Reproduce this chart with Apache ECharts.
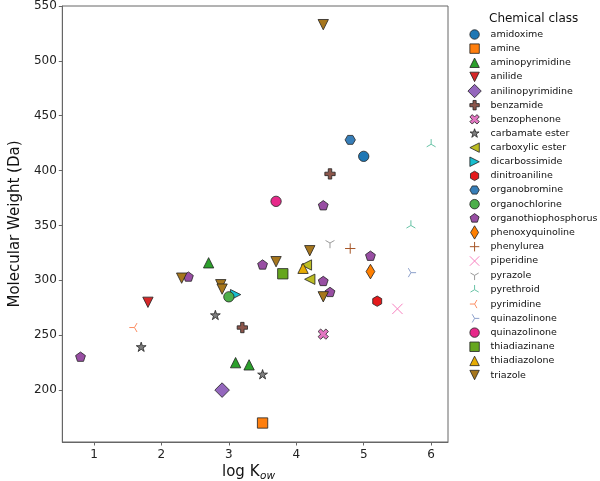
<!DOCTYPE html>
<html>
<head>
<meta charset="utf-8">
<script src="https://cdn.jsdelivr.net/npm/echarts@6/dist/echarts.min.js"></script>
<style>
  html, body { margin: 0; padding: 0; background: #fff; }
  #chart { width: 600px; height: 481px; }
</style>
</head>
<body>
<div id="chart"></div>
<script>
// ---- data ----
const classNames = [
    'amidoxime', 'amine', 'aminopyrimidine', 'anilide', 'anilinopyrimidine',
    'benzamide', 'benzophenone', 'carbamate ester', 'carboxylic ester', 'dicarbossimide',
    'dinitroaniline', 'organobromine', 'organochlorine', 'organothiophosphorus', 'phenoxyquinoline',
    'phenylurea', 'piperidine', 'pyrazole', 'pyrethroid', 'pyrimidine',
    'quinazolinone', 'quinazolinone ', 'thiadiazinane', 'thiadiazolone', 'triazole'
];
// log Kow per class
const kowValues = [
    [5.0], [3.5], [2.7, 3.1, 3.3], [1.8], [2.9],
    [4.5, 3.2], [4.4], [1.7, 2.8, 3.5], [4.15, 4.2], [3.1],
    [5.2], [4.8], [3.0], [0.8, 2.4, 3.5, 4.4, 4.4, 4.5, 5.1], [5.1],
    [4.8], [5.5], [4.5], [6.0, 5.7], [1.6],
    [5.7], [3.7], [3.8], [4.1], [4.4, 4.2, 3.7, 2.3, 2.88, 2.9, 4.4]
];
// molecular weight (Da) per class
const mwValues = [
    [413], [170], [316, 225, 223], [280], [200],
    [397, 257], [251], [239, 268, 214], [314, 301], [287],
    [281], [428], [285], [230, 303, 314, 368, 299, 289, 322], [308],
    [329], [274], [334], [424, 350], [257],
    [307], [372], [306], [311], [533, 327, 317, 302, 296, 292, 285]
];
const xTicks = [1, 2, 3, 4, 5, 6];
const yTicks = [200, 250, 300, 350, 400, 450, 500, 550];

// ---- marker styling ----
const classColors = [
    '#1f77b4', '#ff7f0e', '#2ca02c', '#d62728', '#9467bd',
    '#8c564b', '#e377c2', '#7f7f7f', '#bcbd22', '#17becf',
    '#e41a1c', '#377eb8', '#4daf4a', '#984ea3', '#ff7f00',
    '#a65628', '#f781bf', '#999999', '#66c2a5', '#fc8d62',
    '#8da0cb', '#e7298a', '#66a61e', '#e6ab02', '#a6761d'
];
const classMarkers = [
    'circle', 'square', 'triUp', 'triDown', 'diamond',
    'plusFilled', 'xFilled', 'star', 'triLeft', 'triRight',
    'hexPointy', 'hexFlat', 'circle', 'pentagon', 'thinDiamond',
    'plus', 'cross', 'tri1', 'tri2', 'tri3',
    'tri4', 'circle', 'square', 'triUp', 'triDown'
];
const lineMarkers = ['plus', 'cross', 'tri1', 'tri2', 'tri3', 'tri4'];

// every path shares the same invisible frame so all markers scale alike
const FRAME = 'M-0.75,-0.75M0.75,0.75';
const markerPaths = {
    circle: 'M0.5,0A0.5,0.5,0,1,1,-0.5,0A0.5,0.5,0,1,1,0.5,0Z',
    square: 'M-0.5,-0.5L0.5,-0.5L0.5,0.5L-0.5,0.5Z',
    triUp: 'M0,-0.5L0.5,0.5L-0.5,0.5Z',
    triDown: 'M0,0.5L-0.5,-0.5L0.5,-0.5Z',
    triLeft: 'M-0.5,0L0.5,-0.5L0.5,0.5Z',
    triRight: 'M0.5,0L-0.5,-0.5L-0.5,0.5Z',
    diamond: 'M0,-0.707L0.707,0L0,0.707L-0.707,0Z',
    thinDiamond: 'M0,-0.707L0.424,0L0,0.707L-0.424,0Z',
    pentagon: 'M0,-0.5L0.4755,-0.1545L0.2939,0.4045L-0.2939,0.4045L-0.4755,-0.1545Z',
    star: 'M0,-0.5L0.1123,-0.1545L0.4755,-0.1545L0.1816,0.059L0.2939,0.4045L0,0.191' +
          'L-0.2939,0.4045L-0.1816,0.059L-0.4755,-0.1545L-0.1123,-0.1545Z',
    hexPointy: 'M0,-0.5L0.433,-0.25L0.433,0.25L0,0.5L-0.433,0.25L-0.433,-0.25Z',
    hexFlat: 'M0.5,0L0.25,0.433L-0.25,0.433L-0.5,0L-0.25,-0.433L0.25,-0.433Z',
    plusFilled: 'M-0.1667,-0.5L0.1667,-0.5L0.1667,-0.1667L0.5,-0.1667L0.5,0.1667L0.1667,0.1667' +
                'L0.1667,0.5L-0.1667,0.5L-0.1667,0.1667L-0.5,0.1667L-0.5,-0.1667L-0.1667,-0.1667Z',
    xFilled: 'M-0.25,-0.5L0,-0.25L0.25,-0.5L0.5,-0.25L0.25,0L0.5,0.25L0.25,0.5L0,0.25' +
             'L-0.25,0.5L-0.5,0.25L-0.25,0L-0.5,-0.25Z',
    plus: 'M-0.5,0L0.5,0M0,-0.5L0,0.5',
    cross: 'M-0.5,-0.5L0.5,0.5M-0.5,0.5L0.5,-0.5',
    tri1: 'M0,0L0,0.5M0,0L-0.433,-0.25M0,0L0.433,-0.25',
    tri2: 'M0,0L0,-0.5M0,0L-0.433,0.25M0,0L0.433,0.25',
    tri3: 'M0,0L-0.5,0M0,0L0.25,-0.433M0,0L0.25,0.433',
    tri4: 'M0,0L0.5,0M0,0L-0.25,-0.433M0,0L-0.25,0.433'
};

const FONT = 'DejaVu Sans';
const axisGray = '#666';

const series = classNames.map((name, i) => {
    const isLine = lineMarkers.includes(classMarkers[i]);
    return {
        name: name,
        type: 'scatter',
        symbol: 'path://' + FRAME + markerPaths[classMarkers[i]],
        symbolSize: 15.5,
        symbolKeepAspect: true,
        data: kowValues[i].map((x, j) => [x, mwValues[i][j]]),
        itemStyle: isLine
            ? { color: 'rgba(0,0,0,0)', borderColor: classColors[i], borderWidth: 1, opacity: 1 }
            : { color: classColors[i], borderColor: '#222', borderWidth: 0.8, opacity: 1 },
        emphasis: { disabled: true }
    };
});

const chart = echarts.init(document.getElementById('chart'));
chart.setOption({
    animation: false,
    title: {
        text: 'Chemical class',
        left: 489,
        top: 13,
        padding: 0,
        textStyle: { fontFamily: FONT, fontSize: 12, fontWeight: 'normal', color: '#111' }
    },
    legend: {
        orient: 'vertical',
        left: 467,
        top: 27,
        padding: 0,
        itemWidth: 22,
        itemHeight: 14.17,
        itemGap: -0.83,
        selectedMode: false,
        textStyle: { fontFamily: FONT, fontSize: 9.5, lineHeight: 12, color: '#111' },
        data: classNames.map((n, i) => ({
            name: n,
            itemStyle: { borderWidth: lineMarkers.includes(classMarkers[i]) ? 1 : 0.8 }
        }))
    },
    grid: {
        left: 48, right: 152, top: 5, bottom: 39,
        show: true, borderColor: axisGray, borderWidth: 1
    },
    xAxis: {
        type: 'value',
        min: 0.53,
        max: 6.25,
        axisLine: { show: true, onZero: false, lineStyle: { color: axisGray } },
        axisTick: { show: true, length: 3.5, customValues: xTicks, lineStyle: { color: axisGray } },
        axisLabel: { customValues: xTicks, margin: 7, fontSize: 12, fontFamily: FONT, color: '#222' },
        splitLine: { show: false }
    },
    yAxis: {
        type: 'value',
        min: 152.7,
        max: 550,
        name: 'Molecular Weight (Da)',
        nameLocation: 'middle',
        nameGap: 33,
        nameTextStyle: { fontSize: 15, fontFamily: FONT, color: '#111' },
        axisLine: { show: true, onZero: false, lineStyle: { color: axisGray } },
        axisTick: { show: true, length: 3.5, customValues: yTicks, lineStyle: { color: axisGray } },
        axisLabel: { customValues: yTicks, margin: 5.5, fontSize: 12, fontFamily: FONT, color: '#222' },
        splitLine: { show: false }
    },
    graphic: [
        {
            type: 'text', x: 222, y: 472,
            style: { text: 'log K', fontFamily: FONT, fontSize: 15, fill: '#111', verticalAlign: 'middle' }
        },
        {
            type: 'text', x: 260, y: 476,
            style: { text: 'ow', fontFamily: FONT, fontSize: 10.5, fontStyle: 'italic', fill: '#111', verticalAlign: 'middle' }
        }
    ],
    series: series
});
</script>
</body>
</html>
